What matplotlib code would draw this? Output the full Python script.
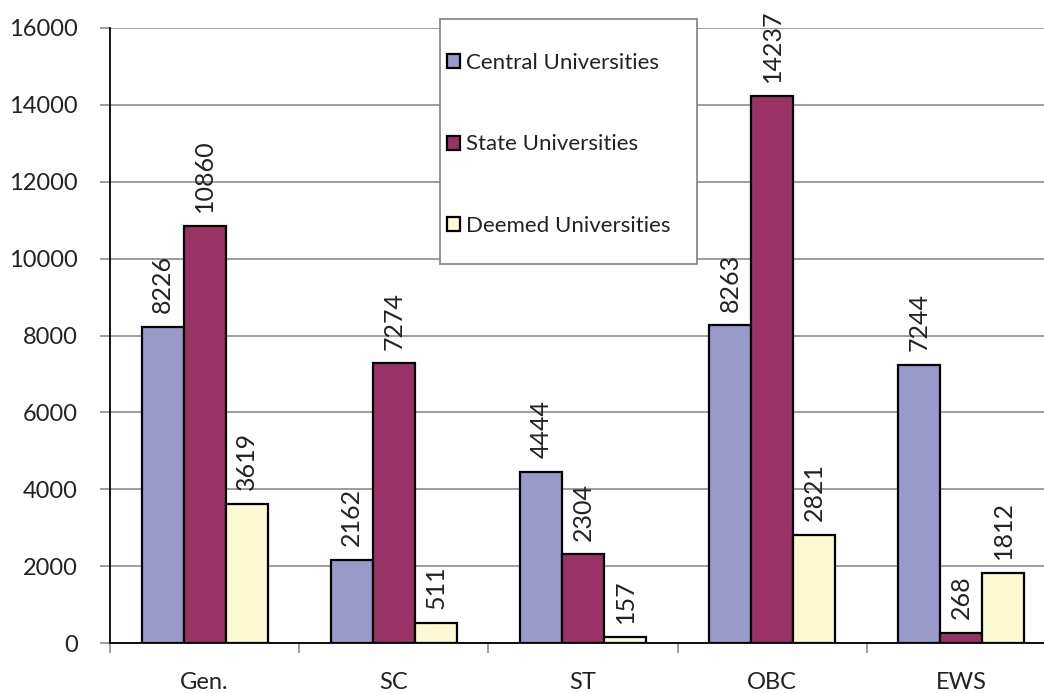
import matplotlib
matplotlib.use("Agg")
import matplotlib.pyplot as plt
from matplotlib.patches import Rectangle
import numpy as np

categories = ["Gen.", "SC", "ST", "OBC", "EWS"]
series_names = ["Central Universities", "State Universities", "Deemed Universities"]
central = [8226, 2162, 4444, 8263, 7244]
state = [10860, 7274, 2304, 14237, 268]
deemed = [3619, 511, 157, 2821, 1812]
y_ticks = [0, 2000, 4000, 6000, 8000, 10000, 12000, 14000, 16000]

colors = ["#9999CC", "#993366", "#FCF9D2"]

plt.rcParams['font.family'] = ['Lato', 'DejaVu Sans']
FS = 17
FS_LBL = 18
FS_LEG = 16

fig = plt.figure(figsize=(10.44, 6.93), dpi=100)
ax = fig.add_axes([110/1044, 50/693, 946/1044, 615/693])

x = np.arange(len(categories))
w = 0.222
handles = []
for i, (vals, name, c) in enumerate(zip([central, state, deemed], series_names, colors)):
    bars = ax.bar(x + (i - 1) * w, vals, width=w, color=c, edgecolor="black",
                  linewidth=1.6, label=name, zorder=3)
    handles.append(bars)
    for xi, v in zip(x + (i - 1) * w, vals):
        ax.annotate(f"{v}", (xi, v), xytext=(0, 10), textcoords="offset points",
                    rotation=90, ha="center", va="bottom", fontsize=FS_LBL, color="#222222")

ax.set_xlim(-0.5, len(categories) - 0.5)
ax.set_ylim(0, 16000)
ax.set_yticks(y_ticks)
ax.set_yticklabels([str(t) for t in y_ticks], fontsize=FS, color="#222222")
ax.yaxis.grid(True, color="#8c8c8c", linewidth=1.2, zorder=0)
ax.set_axisbelow(True)

ax.set_xticks(np.arange(len(categories) + 1) - 0.5)
ax.set_xticklabels([])
ax.set_xticks(x, minor=True)
ax.set_xticklabels(categories, minor=True, fontsize=FS, color="#222222")
ax.tick_params(axis="x", which="minor", length=0, pad=21)
ax.tick_params(axis="x", which="major", length=7, color="#8c8c8c", width=1.2)
ax.tick_params(axis="y", length=7, color="#8c8c8c", width=1.2, pad=16)

for s in ["top", "right"]:
    ax.spines[s].set_visible(False)
ax.spines["left"].set_color("black")
ax.spines["bottom"].set_color("black")
ax.spines["left"].set_linewidth(1.3)
ax.spines["bottom"].set_linewidth(1.3)

# legend box
W, H = 1044, 693
box = Rectangle((440/W, 1 - 264/H), (697-440)/W, (264-19)/H, transform=fig.transFigure,
                facecolor="white", edgecolor="#7f7f7f", linewidth=1.2, zorder=5)
fig.patches.append(box)
leg = fig.legend(handles=handles, labels=series_names, loc="center left",
                 bbox_to_anchor=(447/W, 1 - 144.5/H), fontsize=FS_LEG,
                 frameon=False, labelspacing=2.77, borderpad=0, handlelength=0.6,
                 handleheight=0.6, handletextpad=0.25, borderaxespad=0)
leg.set_zorder(6)
for t in leg.get_texts():
    t.set_color("#222222")

fig.savefig("out.png", dpi=100)
